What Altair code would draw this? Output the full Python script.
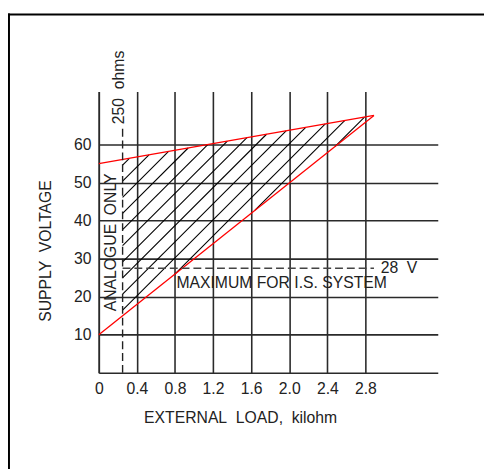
import altair as alt
import pandas as pd

# ---------------- data ----------------
x_ticks = [0, 0.4, 0.8, 1.2, 1.6, 2.0, 2.4, 2.8]
y_ticks = [10, 20, 30, 40, 50, 60]

# red boundary lines (kilohm, volts)
upper_x = [0.0, 2.89]
upper_y = [55.0, 67.7]
lower_x = [0.0, 2.89]
lower_y = [10.0, 67.7]

analogue_limit = [0.25]      # 250 ohms dashed line (kilohm)
analogue_top = [65.2]        # top of that dashed line (V)
is_max_volt = [27.5]         # 28 V dashed line
is_line_end = [2.89]

hatch_slope = 25.0           # V per kilohm
hatch_intercepts = [-2.5, 1.74, 5.98, 10.22, 14.46, 18.7, 22.94,
                    27.18, 31.42, 35.66, 39.9, 44.14, 48.38]

FONT = "Liberation Sans"
INK = "#2a2a2a"

# ---------------- tables ----------------
red = pd.DataFrame({
    "x": [upper_x[0], lower_x[0]], "x2": [upper_x[1], lower_x[1]],
    "y": [upper_y[0], lower_y[0]], "y2": [upper_y[1], lower_y[1]],
})

su = (upper_y[1] - upper_y[0]) / (upper_x[1] - upper_x[0])
sl = (lower_y[1] - lower_y[0]) / (lower_x[1] - lower_x[0])
rows = []
for c in hatch_intercepts:
    xa = max(analogue_limit[0], (lower_y[0] - c) / (hatch_slope - sl))
    xb = (upper_y[0] - c) / (hatch_slope - su)
    rows.append({"x": xa, "y": c + hatch_slope * xa,
                 "x2": xb, "y2": c + hatch_slope * xb})
hatch = pd.DataFrame(rows)

vdash = pd.DataFrame({"x": analogue_limit, "x2": analogue_limit,
                      "y": [0.0], "y2": analogue_top})
hdash = pd.DataFrame({"x": analogue_limit, "x2": is_line_end,
                      "y": is_max_volt, "y2": is_max_volt})

xs = alt.Scale(domain=[0, 3.56], nice=False, zero=False)
ys = alt.Scale(domain=[0, 74], nice=False, zero=False)

xaxis = alt.Axis(values=x_ticks, grid=True, gridColor=INK, gridWidth=1.6,
                 gridOpacity=1, domainColor=INK, domainWidth=1.6, ticks=False,
                 labelExpr="datum.value == 0 ? '0' : format(datum.value, '.1f')",
                 labelFont=FONT, labelFontSize=16, labelColor="#222",
                 labelPadding=8, labelFlush=False,
                 titleFont=FONT, titleFontSize=16, titleFontWeight="normal",
                 titleColor="#222", titleX=143.7, titleY=46, titleAlign="center",
                 titleBaseline="middle")
yaxis = alt.Axis(values=y_ticks, grid=True, gridColor=INK, gridWidth=1.6,
                 gridOpacity=1, domainColor=INK, domainWidth=1.6, ticks=False,
                 labelFont=FONT, labelFontSize=16, labelColor="#222",
                 labelPadding=8, labelBaseline="middle",
                 titleFont=FONT, titleFontSize=16, titleFontWeight="normal",
                 titleColor="#222", titleAngle=270, titleX=-53.6, titleY=161.7,
                 titleAlign="center", titleBaseline="middle")

X = alt.X("x:Q", scale=xs, axis=xaxis, title="EXTERNAL\u00a0 LOAD,\u00a0 kilohm")
Y = alt.Y("y:Q", scale=ys, axis=yaxis, title="SUPPLY\u00a0 VOLTAGE")

hatch_layer = alt.Chart(hatch).mark_rule(color="#000", strokeWidth=1.1).encode(
    x=X, y=Y, x2="x2:Q", y2="y2:Q")
red_layer = alt.Chart(red).mark_rule(color="#ff0000", strokeWidth=1.3).encode(
    x=X, y=Y, x2="x2:Q", y2="y2:Q")
vdash_layer = alt.Chart(vdash).mark_rule(color="#222", strokeWidth=1.4,
                                         strokeDash=[8, 4]).encode(
    x=X, y=Y, x2="x2:Q", y2="y2:Q")
hdash_layer = alt.Chart(hdash).mark_rule(color="#444", strokeWidth=1.4,
                                         strokeDash=[8, 4]).encode(
    x=X, y=Y, x2="x2:Q", y2="y2:Q")

def label(txt, x, y, angle=0, align="left", dy=0):
    df = pd.DataFrame({"x": [x], "y": [y], "t": [txt]})
    return alt.Chart(df).mark_text(font=FONT, fontSize=16, color="#222",
                                   angle=angle, align=align, baseline="middle",
                                   dy=dy).encode(x=X, y=Y, text="t:N")

t_ohms = label("250\u00a0 ohms", 0.21, 65.4, angle=270, align="left")
t_analog = label("ANALOGUE\u00a0 ONLY", 0.125, 34.3, angle=270, align="center")
t_max = label("MAXIMUM FOR I.S. SYSTEM", 0.815, 23.7)
t_28 = label("28\u00a0 V", 2.96, 27.5)

one = pd.DataFrame({"a": [0]})
frame_top = alt.Chart(one).mark_rule(color="#000", strokeWidth=2).encode(
    x=alt.value(-92.3), x2=alt.value(400), y=alt.value(-78.2))
frame_left = alt.Chart(one).mark_rule(color="#000", strokeWidth=2).encode(
    x=alt.value(-91.3), y=alt.value(-79.2), y2=alt.value(420))

chart = alt.layer(
    hatch_layer, red_layer, vdash_layer, hdash_layer,
    t_ohms, t_analog, t_max, t_28, frame_top, frame_left,
).properties(
    width=344.6, height=286,
    autosize=alt.AutoSizeParams(type="none"),
    padding={"left": 92.3, "top": 81, "right": 47, "bottom": 94},
    background="white",
).configure_view(stroke=None)

chart.save("out.html", embed_options={"renderer": "svg", "actions": False})
